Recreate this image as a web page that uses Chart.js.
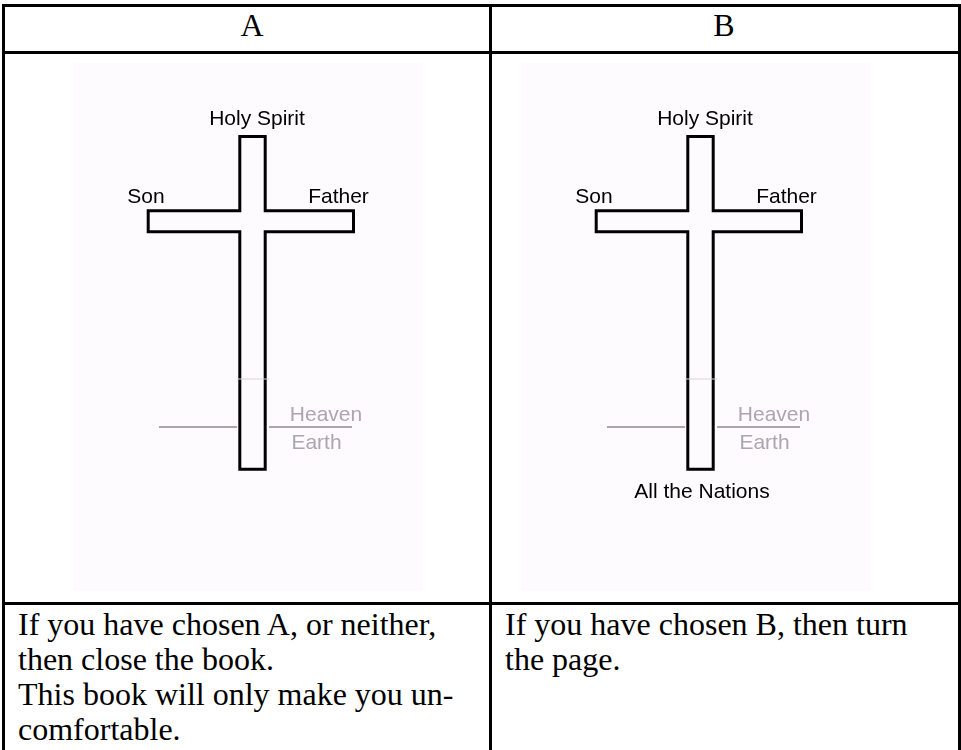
<!DOCTYPE html>
<html>
<head>
<meta charset="utf-8">
<title>Cross A / B</title>
<script src="https://cdn.jsdelivr.net/npm/chart.js@4.4.0/dist/chart.umd.min.js"></script>
<style>
  html, body { margin: 0; padding: 0; background: #fff; }
  #page { position: relative; width: 961px; height: 750px; overflow: hidden; }
  .rule { position: absolute; background: #000; }
  .head {
    position: absolute; top: 9px; width: 200px; margin-left: -100px;
    text-align: center; font: 32px/32px "Liberation Serif", "Times New Roman", serif; color: #000;
  }
  .note {
    position: absolute; top: 607px;
    font: 32px/35px "Liberation Serif", "Times New Roman", serif; color: #000; white-space: nowrap;
  }
  canvas { position: absolute; background: #fdfbfd; }
</style>
</head>
<body>
<div id="page">
  <!-- table rules -->
  <div class="rule" style="left:2px;top:4px;width:959px;height:3px"></div>
  <div class="rule" style="left:2px;top:51px;width:959px;height:3px"></div>
  <div class="rule" style="left:2px;top:602px;width:959px;height:3px"></div>
  <div class="rule" style="left:2px;top:4px;width:3px;height:746px"></div>
  <div class="rule" style="left:489px;top:4px;width:3px;height:746px"></div>
  <div class="rule" style="left:958px;top:4px;width:3px;height:746px"></div>

  <div class="head" style="left:252px">A</div>
  <div class="head" style="left:724px">B</div>

  <canvas id="crossA" width="350" height="528" style="left:73px;top:63px"></canvas>
  <canvas id="crossB" width="350" height="528" style="left:521px;top:63px"></canvas>

  <div class="note" style="left:18px">If you have chosen A, or neither,<br>then close the book.<br>This book will only make you un-<br>comfortable.</div>
  <div class="note" style="left:505px">If you have chosen B, then turn<br>the page.</div>
</div>

<script>
// ---- data: cross outline (picture units, y downwards) ----
const outlineX = [179.5, 192.2, 192.2, 280.5, 280.5, 192.2, 192.2, 166.8, 166.8, 75.2, 75.2, 166.8, 166.8, 179.5];
const outlineY = [73.5, 73.5, 147.8, 147.8, 168.8, 168.8, 406.2, 406.2, 168.8, 168.8, 147.8, 147.8, 73.5, 73.5];

// heaven / earth horizon, both sides of the upright
const horizonLeftX = [86, 164];
const horizonRightX = [196, 279];
const horizonY = [364, 364];
// faint mark across the upright above the horizon
const tickX = [164, 196];
const tickY = [316, 316];

// names on the cross
const nameTexts = ['Holy Spirit', 'Son', 'Father'];
const nameX = [184, 73, 265.5];
const nameY = [62, 140, 140];
const nationsText = ['All the Nations'];
const nationsX = [181];
const nationsY = [435];

// realm labels
const realmTexts = ['Heaven', 'Earth'];
const realmX = [253, 243.5];
const realmY = [358, 385.5];

const PIC_W = 350, PIC_H = 528;

function pts(xs, ys) {
    return xs.map((x, i) => ({ x: x, y: ys[i] }));
}

// ---- draws the text of label datasets at their points ----
const labelPlugin = {
    id: 'crossLabels',
    afterDatasetsDraw(chart) {
        const ctx = chart.ctx;
        chart.data.datasets.forEach((ds, i) => {
            if (!ds.labelTexts) return;
            const meta = chart.getDatasetMeta(i);
            ctx.save();
            ctx.font = '21px "Liberation Sans", Arial, sans-serif';
            ctx.fillStyle = ds.textColor;
            ctx.textAlign = 'center';
            ctx.textBaseline = 'alphabetic';
            meta.data.forEach((p, j) => ctx.fillText(ds.labelTexts[j], p.x, p.y));
            ctx.restore();
        });
    }
};

function initCross(id, withNations) {
    const canvas = document.getElementById(id);
    if (!canvas) return;
    const line = (data, color, width) => ({
        data: data, showLine: true, fill: false, tension: 0,
        borderColor: color, borderWidth: width, pointRadius: 0,
        borderJoinStyle: 'miter', borderCapStyle: 'butt'
    });
    const names = { data: pts(nameX, nameY), labelTexts: nameTexts.slice(), textColor: '#000', pointRadius: 0, showLine: false };
    if (withNations) {
        names.data = names.data.concat(pts(nationsX, nationsY));
        names.labelTexts = names.labelTexts.concat(nationsText);
    }
    new Chart(canvas, {
        type: 'scatter',
        data: {
            datasets: [
                line(pts(tickX, tickY), '#d9d4d9', 1),
                line(pts(horizonLeftX, horizonY), '#aca6ac', 2),
                line(pts(horizonRightX, horizonY), '#aca6ac', 2),
                line(pts(outlineX, outlineY), '#000', 3),
                names,
                { data: pts(realmX, realmY), labelTexts: realmTexts, textColor: '#aca6ac', pointRadius: 0, showLine: false }
            ]
        },
        options: {
            responsive: false, animation: false,
            layout: { padding: 0 },
            plugins: { legend: { display: false }, tooltip: { enabled: false }, title: { display: false } },
            scales: {
                x: { type: 'linear', min: 0, max: PIC_W, display: false },
                y: { type: 'linear', min: 0, max: PIC_H, reverse: true, display: false }
            }
        },
        plugins: [labelPlugin]
    });
}

initCross('crossA', false);
initCross('crossB', true);
</script>
</body>
</html>
